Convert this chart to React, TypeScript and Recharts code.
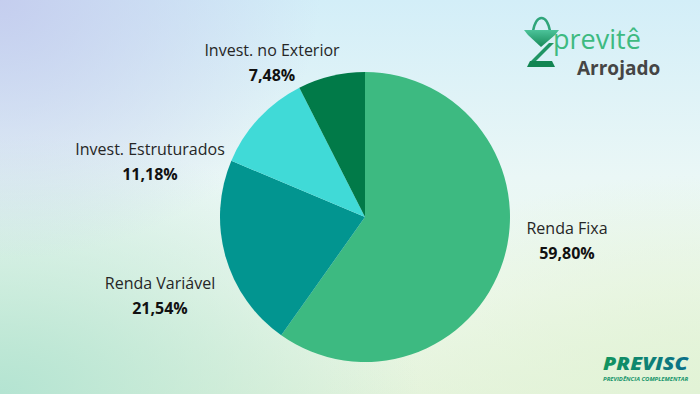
import { PieChart, Pie, Cell } from "recharts"

const CATEGORIES = ["Renda Fixa", "Renda Variável", "Invest. Estruturados", "Invest. no Exterior"]
const SHARES = [59.8, 21.54, 11.18, 7.48]
const COLORS = ["#3dba81", "#029590", "#40dad7", "#017a48"]

// label placement relative to the pie centre (manual, as in the original slide)
const LABEL_OFFSETS = [
  { dx: 202, dy: 11 },
  { dx: -205, dy: 66 },
  { dx: -215, dy: -68 },
  { dx: -93, dy: -167 },
]

const FONT = "'Open Sans', sans-serif"

const data = CATEGORIES.map((name, i) => ({ name, value: SHARES[i] }))

function renderLabel(props: any) {
  const { cx, cy, index, name, value } = props
  const off = LABEL_OFFSETS[index]
  const x = cx + off.dx
  const y = cy + off.dy
  return (
    <g>
      <text x={x} y={y} textAnchor="middle" dominantBaseline="central" fontFamily={FONT} fontSize={16} fill="#262626">
        {name}
      </text>
      <text x={x} y={y + 25} textAnchor="middle" dominantBaseline="central" fontFamily={FONT} fontSize={16} fontWeight={700} fill="#111">
        {value.toFixed(2).replace(".", ",")}%
      </text>
    </g>
  )
}

function Logos() {
  return (
    <svg width={700} height={394} style={{ position: "absolute", left: 0, top: 0, pointerEvents: "none" }}>
      <defs>
        <linearGradient id="iconGrad" x1="0" y1="0" x2="0" y2="1">
          <stop offset="0%" stopColor="#4cc39a" />
          <stop offset="100%" stopColor="#168a58" />
        </linearGradient>
        <linearGradient id="previscGrad" x1="0" y1="0" x2="1" y2="0">
          <stop offset="0%" stopColor="#12955e" />
          <stop offset="100%" stopColor="#0a6f8a" />
        </linearGradient>
      </defs>
      {/* handle */}
      <path d="M533 31 C535 21, 538 18, 541.5 18 C545 18, 548 21, 550 31" fill="none" stroke="#2fa57a" strokeWidth={2.5} />
      {/* upper funnel */}
      <path d="M524 30 L559 30 L555 35 L541 47 L528 35 Z" fill="url(#iconGrad)" />
      {/* Z diagonal */}
      <path d="M549 43 L554 43 L535 62 L530 62 Z" fill="#1f9564" />
      {/* base */}
      <path d="M530 61 L552 61 L555 67 L527 67 Z" fill="#128552" />
      <text x={553} y={49} fontFamily={FONT} fontSize={27} fill="#3dba81">
        previtê
      </text>
      <text x={577} y={75} fontFamily={FONT} fontSize={19} fontWeight={700} fill="#454545">
        Arrojado
      </text>
      <text x={603} y={370} fontFamily={FONT} fontSize={18} fontWeight={800} fontStyle="italic" fill="url(#previscGrad)" textLength={85} lengthAdjust="spacingAndGlyphs">
        PREVISC
      </text>
      <text x={603} y={381} fontFamily={FONT} fontSize={5} fontWeight={700} fontStyle="italic" fill="#14946a" textLength={85} lengthAdjust="spacingAndGlyphs">
        PREVIDÊNCIA COMPLEMENTAR
      </text>
    </svg>
  )
}

export default function App() {
  return (
    <div
      style={{
        position: "absolute",
        left: 0,
        top: 0,
        width: 700,
        height: 394,
        overflow: "hidden",
        background:
          "radial-gradient(ellipse 320px 260px at 0% 0%, rgba(196,204,238,0.95) 0%, rgba(196,204,238,0) 100%)," +
          "radial-gradient(ellipse 420px 260px at 0% 100%, rgba(180,228,210,1) 0%, rgba(180,228,210,0) 100%)," +
          "radial-gradient(ellipse 380px 220px at 100% 100%, rgba(226,243,214,1) 0%, rgba(226,243,214,0) 100%)," +
          "linear-gradient(180deg, #d3eef8 0%, #eaf7f6 45%, #eef8ec 75%, #e6f4de 100%)",
      }}
    >
      <PieChart
        width={700}
        height={394}
        margin={{ top: 0, right: 0, bottom: 0, left: 0 }}
        style={{ position: "absolute", left: 0, top: 0 }}
      >
        <Pie
          data={data}
          dataKey="value"
          nameKey="name"
          cx={365}
          cy={217}
          outerRadius={145}
          startAngle={90}
          endAngle={-270}
          stroke="none"
          label={renderLabel}
          labelLine={false}
          isAnimationActive={false}
        >
          {data.map((entry, index) => (
            <Cell key={`cell-${index}`} fill={COLORS[index]} />
          ))}
        </Pie>
      </PieChart>
      <Logos />
    </div>
  )
}
